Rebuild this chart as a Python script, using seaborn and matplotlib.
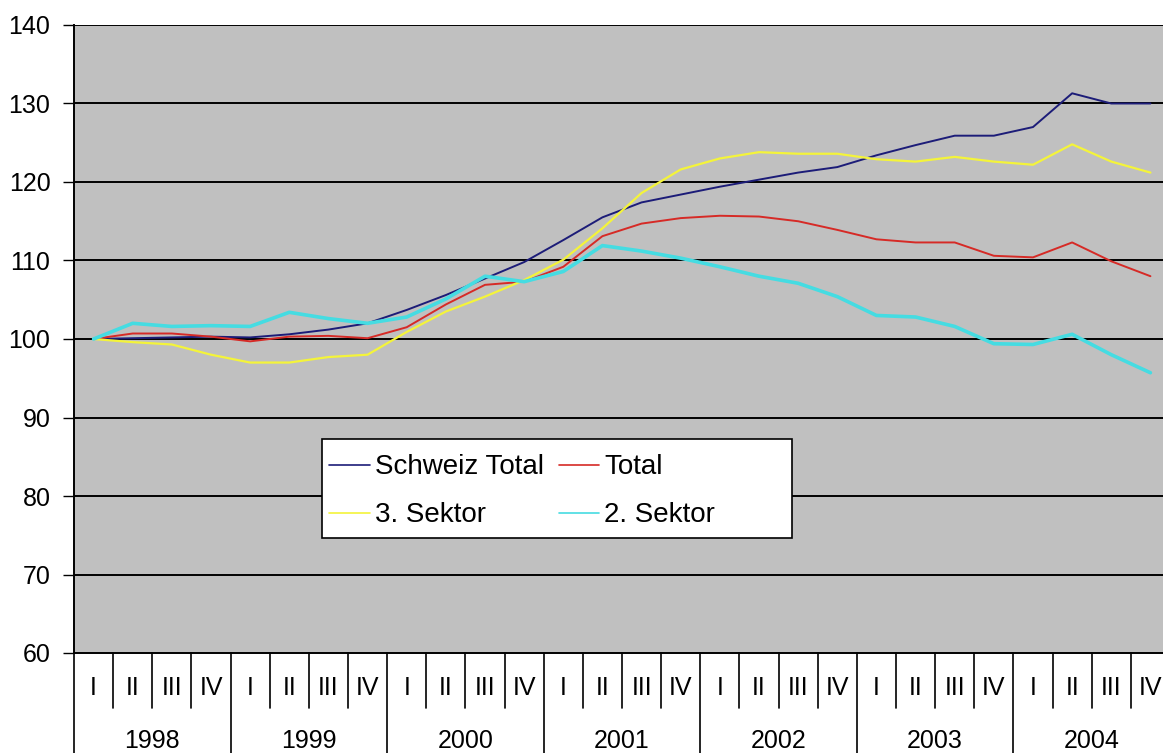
import numpy as np
import pandas as pd
import seaborn as sns
import matplotlib.pyplot as plt
import matplotlib.transforms as mtransforms
from matplotlib.patches import Rectangle

years = ['1998', '1999', '2000', '2001', '2002', '2003', '2004']
quarters = ['I', 'II', 'III', 'IV']

schweiz_total = [100.0, 100.1, 100.2, 100.3, 100.2, 100.6, 101.2, 102.0,
                 103.7, 105.6, 107.7, 109.8, 112.6, 115.5, 117.4, 118.4,
                 119.4, 120.3, 121.2, 121.9, 123.4, 124.7, 125.9, 125.9,
                 127.0, 131.3, 130.0, 130.0]
total = [100.0, 100.7, 100.7, 100.3, 99.7, 100.3, 100.4, 100.1,
         101.5, 104.4, 106.9, 107.3, 109.2, 113.1, 114.7, 115.4,
         115.7, 115.6, 115.0, 113.9, 112.7, 112.3, 112.3, 110.6,
         110.4, 112.3, 109.9, 108.0]
sektor3 = [100.0, 99.6, 99.3, 98.0, 97.0, 97.0, 97.7, 98.0,
           100.9, 103.5, 105.4, 107.5, 110.1, 114.1, 118.6, 121.6,
           123.0, 123.8, 123.6, 123.6, 122.9, 122.6, 123.2, 122.6,
           122.2, 124.8, 122.6, 121.2]
sektor2 = [100.0, 102.0, 101.6, 101.7, 101.6, 103.4, 102.6, 102.0,
           102.8, 105.1, 108.0, 107.3, 108.6, 111.9, 111.2, 110.3,
           109.2, 108.0, 107.1, 105.4, 103.0, 102.8, 101.6, 99.4,
           99.3, 100.6, 98.0, 95.7]

series = {'Schweiz Total': schweiz_total, 'Total': total,
          '3. Sektor': sektor3, '2. Sektor': sektor2}
colors = {'Schweiz Total': '#1c1c78', 'Total': '#d62a26',
          '3. Sektor': '#f4f43a', '2. Sektor': '#45dce2'}
widths = {'Schweiz Total': 1.4, 'Total': 1.4, '3. Sektor': 1.6, '2. Sektor': 2.6}

n = len(years) * len(quarters)
rows = []
for name, vals in series.items():
    for i, v in enumerate(vals):
        rows.append({'pos': i, 'value': v, 'series': name})
df = pd.DataFrame(rows)

sns.set_style('white')
plt.rcParams['font.family'] = ['Liberation Sans', 'DejaVu Sans']
plt.rcParams['text.color'] = 'black'
plt.rcParams['ytick.color'] = 'black'
plt.rcParams['ytick.labelcolor'] = 'black'

fig = plt.figure(figsize=(11.63, 7.53), dpi=100)
W, H = 1163, 753
ax = fig.add_axes([74 / W, 100 / H, 1096 / W, 628 / H])
ax.set_facecolor('#c0c0c0')

sns.lineplot(data=df, x='pos', y='value', hue='series', hue_order=list(series),
             palette=colors, legend=False, ax=ax, estimator=None)
for line, name in zip(ax.lines, series):
    line.set_linewidth(widths[name])

ax.set_xlim(-0.5, n - 0.5)
ax.set_ylim(60, 140)
ax.set_yticks(range(60, 141, 10))
ax.tick_params(axis='y', direction='out', length=8, width=1, color='black',
               labelcolor='black', labelsize=18, pad=9, left=True)
for y in range(70, 141, 10):
    ax.axhline(y, color='black', lw=1.4, zorder=1)

for s in ['top', 'right']:
    ax.spines[s].set_visible(False)
for s in ['left', 'bottom']:
    ax.spines[s].set_color('black')
    ax.spines[s].set_linewidth(1.4)

ax.set_xticks([])
ax.set_xlabel('')
ax.set_ylabel('')

# category axis: quarters and years
trans = mtransforms.blended_transform_factory(ax.transData, ax.transAxes)
q_depth = 55 / 628
y_depth = 110 / 628
for i in range(n + 1):
    depth = y_depth if i % 4 == 0 else q_depth
    ax.plot([i - 0.5, i - 0.5], [0, -depth], transform=trans, color='black',
            lw=1.2, clip_on=False)
for i in range(n):
    ax.text(i, -35 / 628, quarters[i % 4], transform=trans, ha='center',
            va='center', fontsize=18, color='black')
for j, yr in enumerate(years):
    ax.text(j * 4 + 1.5, -88 / 628, yr, transform=trans, ha='center',
            va='center', fontsize=18, color='black')

# legend box (Excel style, fixed size)
bx0, bx1 = (322 - 74) / 1096, (792 - 74) / 1096
by0, by1 = (653 - 538) / 628, (653 - 439) / 628
ax.add_patch(Rectangle((bx0, by0), bx1 - bx0, by1 - by0, transform=ax.transAxes,
                       facecolor='white', edgecolor='black', lw=1.2, zorder=5))

handles = {name: line for line, name in zip(ax.lines, series)}
order = ['Schweiz Total', '3. Sektor', 'Total', '2. Sektor']
leg = ax.legend([handles[k] for k in order], order, ncol=2, loc='upper left',
                bbox_to_anchor=(bx0 - 8 / 1096, by1), fontsize=20, frameon=False,
                borderpad=0.55, labelspacing=0.8, handlelength=1.45,
                handletextpad=0.18, columnspacing=0.55, borderaxespad=0,
                labelcolor='black')
leg.set_zorder(6)
for h in leg.get_lines():
    h.set_linewidth(1.2)

fig.savefig('out.png', dpi=100, facecolor='white')
